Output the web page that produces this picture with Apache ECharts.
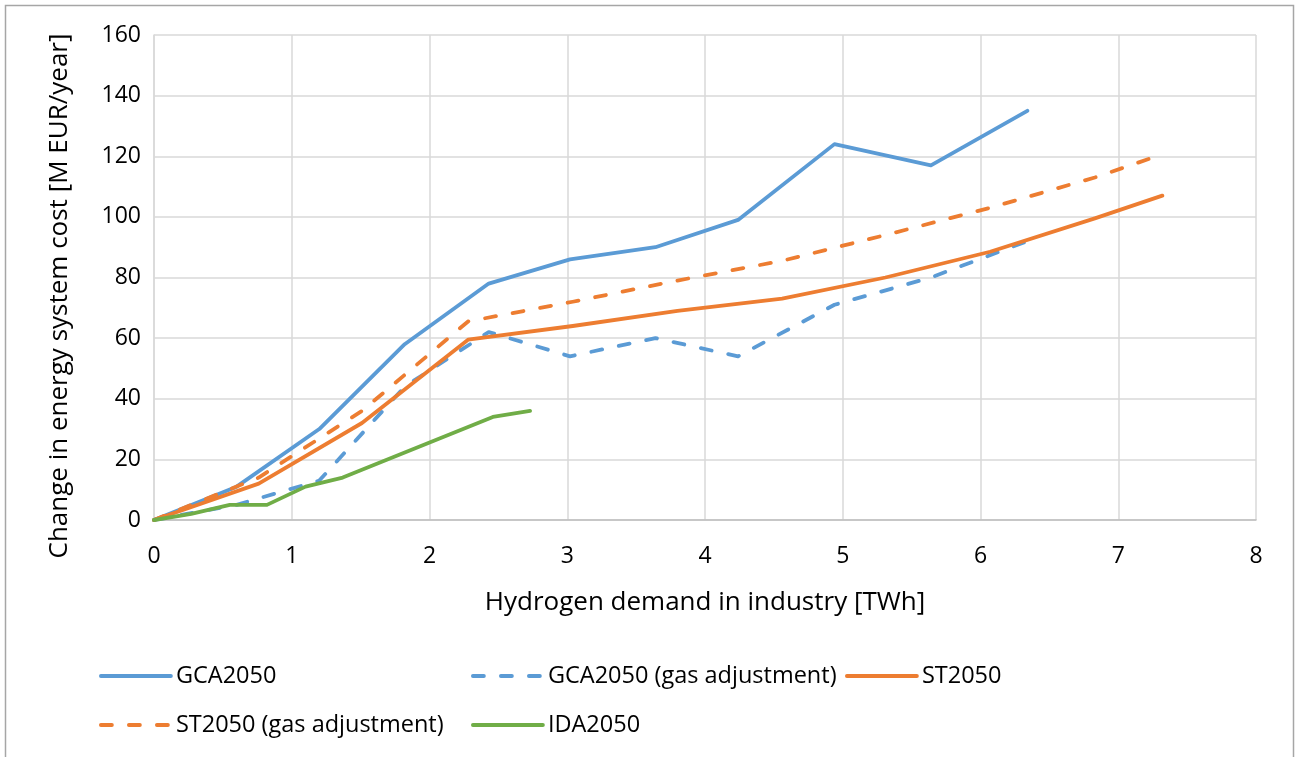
<!DOCTYPE html>
<html>
<head>
<meta charset="utf-8">
<script src="https://cdn.jsdelivr.net/npm/echarts@6/dist/echarts.min.js"></script>
<style>
html,body{margin:0;padding:0;background:#fff;}
#chart{width:1295px;height:757px;}
</style>
</head>
<body>
<div id="chart"></div>
<script>
// ---- data ----
const seriesNames = ['GCA2050', 'GCA2050 (gas adjustment)', 'ST2050', 'ST2050 (gas adjustment)', 'IDA2050'];
const gca2050 = [[0,0],[0.6,11],[1.2,30],[1.82,58],[2.43,78],[3.02,86],[3.64,90],[4.24,99],[4.94,124],[5.64,117],[6.34,135]];
const gca2050Gas = [[0,0],[0.6,5],[1.2,13],[1.82,44],[2.43,62],[3.02,54],[3.64,60],[4.24,54],[4.94,71],[5.64,80],[6.34,92]];
const st2050 = [[0,0],[0.76,12],[1.51,32],[2.28,59.5],[3.04,64],[3.8,69],[4.56,73],[5.31,80],[6.07,88.5],[6.83,99.5],[7.32,107]];
const st2050Gas = [[0,0],[0.76,14],[1.51,36],[2.28,65.5],[3.04,72],[3.8,79],[4.56,85.5],[5.31,94],[6.07,103],[6.83,113],[7.28,120]];
const ida2050 = [[0,0],[0.27,2],[0.55,5],[0.82,5],[1.1,11],[1.37,14],[2.46,34],[2.73,36]];
const xTitle = 'Hydrogen demand in industry [TWh]';
const yTitle = 'Change in energy system cost [M EUR/year]';

const FONT = 'Open Sans';
const BLUE = '#5B9BD5', ORANGE = '#ED7D31', GREEN = '#70AD47';
const DASH = [11, 17];
const LW = 3.8;

function line(name, data, color, dashed) {
  return {
    name: name, type: 'line', data: data, symbol: 'none', showSymbol: false,
    lineStyle: { color: color, width: LW, type: dashed ? DASH : 'solid', cap: 'round', join: 'round' },
    itemStyle: { color: color },
    emphasis: { disabled: true }, silent: true, animation: false
  };
}

function legend(name, left, top) {
  return {
    data: [name], left: left, top: top, padding: 0,
    itemWidth: 70, itemHeight: 14, itemGap: 0, selectedMode: false,
    itemStyle: { opacity: 0 },
    lineStyle: { width: LW },
    textStyle: { fontFamily: FONT, fontSize: 23.5, color: '#000' }
  };
}

const chart = echarts.init(document.getElementById('chart'), null, { renderer: 'canvas' });
chart.setOption({
  animation: false,
  backgroundColor: '#fff',
  grid: { left: 154, right: 39, top: 35, bottom: 237, containLabel: false },
  xAxis: {
    type: 'value', min: 0, max: 8, interval: 1,
    axisLine: { show: true, lineStyle: { color: '#bfbfbf', width: 1.5 } },
    axisTick: { show: false },
    splitLine: { show: true, lineStyle: { color: '#d9d9d9', width: 1.5 } },
    axisLabel: { fontFamily: FONT, fontSize: 23, color: '#000', margin: 25 }
  },
  yAxis: {
    type: 'value', min: 0, max: 160, interval: 20,
    axisLine: { show: true, lineStyle: { color: '#d9d9d9', width: 1.5 } },
    axisTick: { show: false },
    splitLine: { show: true, lineStyle: { color: '#d9d9d9', width: 1.5 } },
    axisLabel: { fontFamily: FONT, fontSize: 23, color: '#000', margin: 13 }
  },
  legend: [
    legend(seriesNames[0], 99, 664),
    legend(seriesNames[1], 471, 664),
    legend(seriesNames[2], 845, 664),
    legend(seriesNames[3], 99, 713),
    legend(seriesNames[4], 471, 713)
  ],
  graphic: [
    { type: 'rect', left: 3, top: 3, silent: true,
      shape: { width: 1288, height: 780 },
      style: { fill: 'none', stroke: '#a6a6a6', lineWidth: 1.5 } },
    { type: 'text', x: 705, y: 603, silent: true,
      style: { text: xTitle, fontFamily: FONT, fontSize: 26, fill: '#000', align: 'center', verticalAlign: 'middle' } },
    { type: 'text', x: 60, y: 296, rotation: Math.PI / 2, silent: true,
      style: { text: yTitle, fontFamily: FONT, fontSize: 26, fill: '#000', align: 'center', verticalAlign: 'middle' } }
  ],
  series: [
    line(seriesNames[0], gca2050, BLUE, false),
    line(seriesNames[1], gca2050Gas, BLUE, true),
    line(seriesNames[2], st2050, ORANGE, false),
    line(seriesNames[3], st2050Gas, ORANGE, true),
    line(seriesNames[4], ida2050, GREEN, false)
  ]
});
</script>
</body>
</html>
